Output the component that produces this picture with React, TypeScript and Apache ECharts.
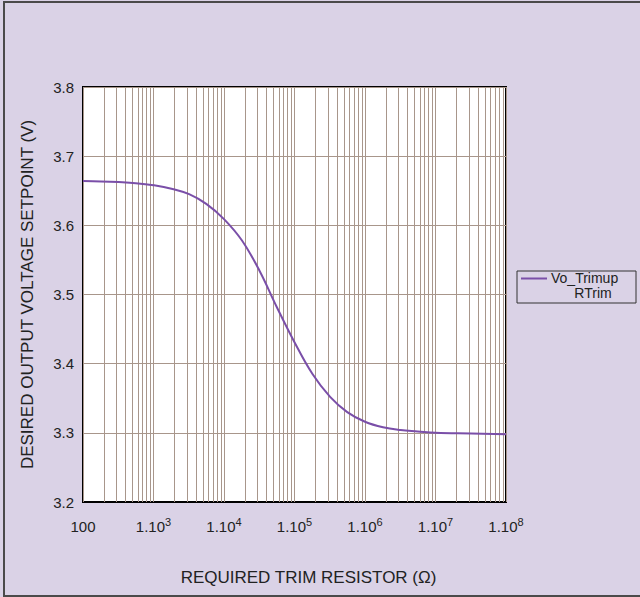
import React, { useEffect, useRef } from "react";
import * as echarts from "echarts";

const resistance = [100, 180, 320, 560, 1000, 1800, 3200, 5600, 10000, 18000, 32000, 56000, 100000, 180000, 320000, 560000, 1000000, 1800000, 3200000, 5600000, 10000000, 32000000, 100000000];
const voltage = [3.664, 3.6635, 3.6625, 3.661, 3.658, 3.653, 3.645, 3.631, 3.609, 3.578, 3.534, 3.482, 3.431, 3.385, 3.352, 3.33, 3.316, 3.308, 3.304, 3.302, 3.3, 3.299, 3.298];
const decades = [2, 3, 4, 5, 6, 7, 8];
const minorMultipliers = [2, 3, 4, 5, 6, 7, 8, 9];
const seriesName = "Vo_Trimup";
const seriesSub = "RTrim";

const FONT = "'Liberation Sans', Arial, sans-serif";

export default function App() {
  const ref = useRef<HTMLDivElement>(null);
  useEffect(() => {
    if (!ref.current) return;
    const chart = echarts.init(ref.current, null, { renderer: "svg" });
    const gridLines: { xAxis: number }[] = [];
    for (let d = 2; d < 8; d++) {
      for (const m of minorMultipliers) gridLines.push({ xAxis: m * Math.pow(10, d) });
    }
    for (const d of decades) gridLines.push({ xAxis: Math.pow(10, d) });
    const purple = "#7a4fa8";
    const gridColor = "#a8968b";
    chart.setOption({
      animation: false,
      backgroundColor: "#dad2e6",
      textStyle: { fontFamily: FONT },
      grid: {
        left: 83,
        right: 134,
        top: 87,
        bottom: 95,
        show: true,
        backgroundColor: "#ffffff",
        borderColor: "#000",
        borderWidth: 2,
      },
      xAxis: {
        type: "log",
        logBase: 10,
        min: 100,
        max: 100000000,
        splitNumber: 6,
        name: "REQUIRED TRIM RESISTOR (Ω)",
        nameLocation: "middle",
        nameGap: 67,
        nameTextStyle: { fontSize: 17, color: "#222", fontFamily: FONT, padding: [0, 0, 0, 28] },
        axisLine: { show: true, lineStyle: { color: "#000", width: 2 } },
        axisTick: { show: false },
        splitLine: { show: false },
        axisLabel: {
          margin: 14,
          color: "#222",
          fontSize: 15,
          fontFamily: FONT,
          formatter: (v: number) => {
            const e = Math.round(Math.log10(v));
            if (e === 2) return "{a|100}";
            return "{a|1.10}{s|" + e + "}";
          },
          rich: {
            a: { fontSize: 15, fontFamily: FONT, color: "#222", verticalAlign: "bottom", lineHeight: 18 },
            s: { fontSize: 11, fontFamily: FONT, color: "#222", verticalAlign: "top", lineHeight: 18, padding: [0, 0, 6, 0] },
          },
        },
      },
      yAxis: {
        type: "value",
        min: 3.2,
        max: 3.8,
        interval: 0.1,
        name: "DESIRED OUTPUT VOLTAGE SETPOINT (V)",
        nameLocation: "middle",
        nameGap: 47,
        nameRotate: 90,
        nameTextStyle: { fontSize: 17, color: "#222", fontFamily: FONT },
        axisLine: { show: true, lineStyle: { color: "#000", width: 2 } },
        axisTick: { show: false },
        axisLabel: {
          margin: 9,
          color: "#222",
          fontSize: 15,
          fontFamily: FONT,
          formatter: (v: number) => v.toFixed(1),
        },
        splitLine: { show: true, lineStyle: { color: gridColor, width: 1 } },
      },
      series: [
        {
          name: "gridlines",
          type: "line",
          data: [],
          silent: true,
          markLine: {
            silent: true,
            symbol: ["none", "none"],
            label: { show: false },
            lineStyle: { color: gridColor, width: 1, type: "solid" },
            emphasis: { disabled: true },
            data: gridLines,
          },
        },
        {
          name: seriesName,
          type: "line",
          data: resistance.map((r, i) => [r, voltage[i]]),
          smooth: 0.4,
          showSymbol: false,
          lineStyle: { color: purple, width: 2 },
          z: 5,
        },
      ],
      graphic: [
        {
          type: "rect",
          shape: { x: 4, y: 2, width: 640, height: 594 },
          style: { fill: "none", stroke: "#4a4a4a", lineWidth: 2 },
          silent: true,
        },
        {
          type: "rect",
          shape: { x: 517, y: 271, width: 119, height: 32 },
          style: { fill: "none", stroke: "#333", lineWidth: 1 },
          silent: true,
        },
        {
          type: "line",
          shape: { x1: 521, y1: 278.5, x2: 547, y2: 278.5 },
          style: { stroke: purple, lineWidth: 2 },
          silent: true,
        },
        {
          type: "text",
          x: 551,
          y: 278,
          style: { text: seriesName, fontSize: 14, lineHeight: 14, fontFamily: FONT, fill: "#222", align: "left", verticalAlign: "middle" },
          silent: true,
        },
        {
          type: "text",
          x: 593,
          y: 293,
          style: { text: seriesSub, fontSize: 14, lineHeight: 14, fontFamily: FONT, fill: "#222", align: "center", verticalAlign: "middle" },
          silent: true,
        },
      ],
    });
    return () => chart.dispose();
  }, []);
  return (
    <div
      ref={ref}
      style={{ position: "fixed", left: 0, top: 0, width: 640, height: 597 }}
    />
  );
}
